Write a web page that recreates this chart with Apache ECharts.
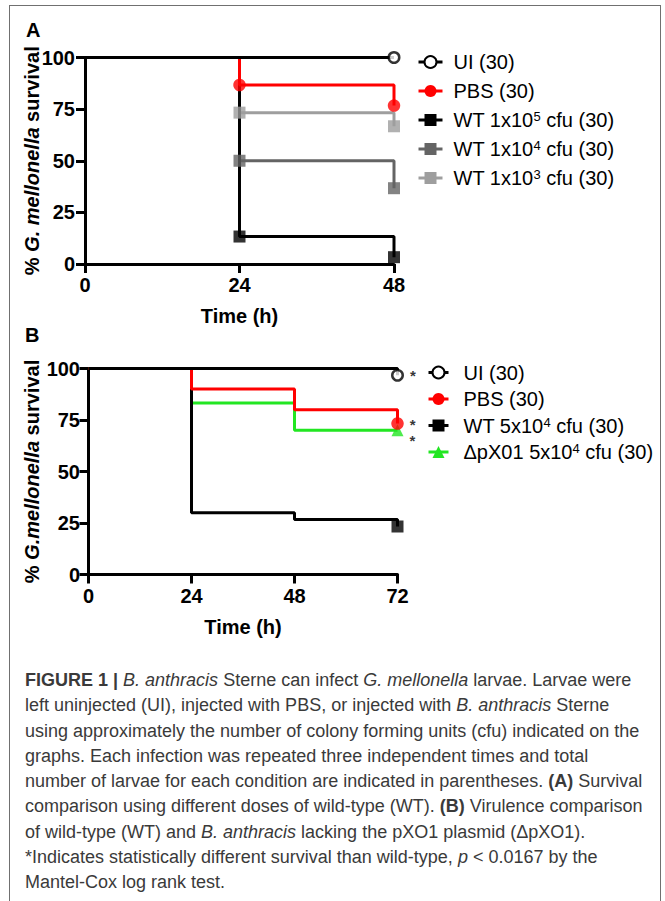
<!DOCTYPE html>
<html><head><meta charset="utf-8">
<script src="https://cdn.jsdelivr.net/npm/echarts@6/dist/echarts.min.js"></script>
<style>
html,body{margin:0;padding:0;background:#fff;}
#frame{position:absolute;left:9px;top:5px;width:652px;height:1000px;border:1.5px solid #707070;box-sizing:border-box;}
#chart{position:absolute;left:0;top:0;width:665px;height:660px;}
#cap{position:absolute;left:25px;top:668px;font-family:'Liberation Sans',Arial,sans-serif;font-size:18px;line-height:25.3px;color:#3a3a3a;white-space:nowrap;}
</style></head>
<body>
<div id="frame"></div>
<div id="chart"></div>
<div id="cap">
<b>FIGURE 1 |</b> <i>B. anthracis</i> Sterne can infect <i>G. mellonella</i> larvae. Larvae were<br>
left uninjected (UI), injected with PBS, or injected with <i>B. anthracis</i> Sterne<br>
using approximately the number of colony forming units (cfu) indicated on the<br>
graphs. Each infection was repeated three independent times and total<br>
number of larvae for each condition are indicated in parentheses. <b>(A)</b> Survival<br>
comparison using different doses of wild-type (WT). <b>(B)</b> Virulence comparison<br>
of wild-type (WT) and <i>B. anthracis</i> lacking the pXO1 plasmid (ΔpXO1).<br>
*Indicates statistically different survival than wild-type, <i>p</i> &lt; 0.0167 by the<br>
Mantel-Cox log rank test.
</div>
<script>
// ---- data ----
const timesA = [0, 24, 48];
const uiA  = [100, 100, 100];
const pbsA = [100, 86.7, 76.7];
const wt5A = [100, 13.3, 3.3];
const wt4A = [100, 50, 36.7];
const wt3A = [100, 73.3, 66.7];

const timesB = [0, 24, 48, 72];
const uiB  = [100, 100, 100, 96.7];
const pbsB = [100, 90, 80, 73.3];
const wtB  = [100, 30, 26.7, 23.3];
const dpB  = [100, 83.3, 70, 70];

const namesA = ['UI (30)', 'PBS (30)', 'WT 1x10^5 cfu (30)', 'WT 1x10^4 cfu (30)', 'WT 1x10^3 cfu (30)'];
const namesB = ['UI (30)', 'PBS (30)', 'WT 5x10^4 cfu (30)', '\u0394pX01 5x10^4 cfu (30)'];
const yTitleA = '% {i|G. mellonella} survival';
const yTitleB = '% {i|G.mellonella} survival';
const xTitle = 'Time (h)';
const star = '*';

// marker indices (points where the curve shows a symbol)
const markA = {ui: [2], pbs: [1, 2], wt5: [1, 2], wt4: [1, 2], wt3: [1, 2]};
const markB = {ui: [3], pbs: [3], wt: [3], dp: [3]};

// ---- styles ----
const FF = "'Liberation Sans', Arial, sans-serif";
const RED = '#ff0000', GREEN = '#22e622', DGREY = '#646464', LGREY = '#9e9e9e', BLACK = '#000';
const sym = {
  openCircle: {symbol: 'circle', itemStyle: {color: '#fff', borderColor: BLACK, borderWidth: 2.5}, size: 10.5},
  redCircle: {symbol: 'circle', itemStyle: {color: RED}, size: 12.5},
  blackSq: {symbol: 'rect', itemStyle: {color: BLACK}, size: 12},
  dgSq: {symbol: 'rect', itemStyle: {color: DGREY}, size: 12},
  lgSq: {symbol: 'rect', itemStyle: {color: LGREY}, size: 12},
  greenTri: {symbol: 'triangle', itemStyle: {color: GREEN}, size: 12}
};

function pts(t, v) { return t.map((x, i) => [x, v[i]]); }

function lineS(name, t, v, color, s, ax, z) {
  return {
    type: 'line', name: name, xAxisIndex: ax, yAxisIndex: ax,
    data: pts(t, v), step: 'end', showSymbol: false,
    symbol: s.symbol, symbolSize: s.size, itemStyle: s.itemStyle,
    lineStyle: {color: color, width: 3}, z: z, silent: true, animation: false
  };
}
function markS(t, v, idx, s, ax, label) {
  return {
    type: 'scatter', xAxisIndex: ax, yAxisIndex: ax,
    data: idx.map(i => ({value: [t[i], v[i]], label: label})),
    symbol: s.symbol, symbolSize: s.size, itemStyle: s.itemStyle,
    z: 10, silent: true, animation: false
  };
}
function starLabel(dy) {
  return {show: true, formatter: star, position: 'right', distance: 6, offset: [0, dy],
    fontSize: 15, lineHeight: 12, fontWeight: 'bold', color: BLACK, fontFamily: FF};
}

function xAxisOf(gi, max) {
  return {
    type: 'value', gridIndex: gi, min: 0, max: max, interval: 24,
    axisLine: {onZero: false, lineStyle: {color: BLACK, width: 3}},
    axisTick: {length: 9, lineStyle: {color: BLACK, width: 3}},
    axisLabel: {color: BLACK, fontSize: 20, fontWeight: 'bold', fontFamily: FF, margin: 11},
    splitLine: {show: false},
    name: xTitle, nameLocation: 'middle', nameGap: 42, nameMoveOverlap: false,
    nameTextStyle: {color: BLACK, fontSize: 20, fontWeight: 'bold', fontFamily: FF}
  };
}
function yAxisOf(gi, title, gap, margin) {
  return {
    type: 'value', gridIndex: gi, min: 0, max: 100, interval: 25,
    axisLine: {onZero: false, lineStyle: {color: BLACK, width: 3}},
    axisTick: {length: 9, lineStyle: {color: BLACK, width: 3}},
    axisLabel: {color: BLACK, fontSize: 20, fontWeight: 'bold', fontFamily: FF, margin: margin},
    splitLine: {show: false},
    name: title, nameLocation: 'middle', nameRotate: 90, nameGap: gap, nameMoveOverlap: false,
    nameTextStyle: {color: BLACK, fontSize: 20, fontWeight: 'bold', fontFamily: FF,
      rich: {i: {fontStyle: 'italic', fontWeight: 'bold', fontSize: 20, fontFamily: FF, color: BLACK}}}
  };
}
const fmt = n => n.replace(/\^(\d)/, '{sup|$1}');
function legendOf(names, left, top, w, gap, pad) {
  return {
    data: names, left: left, top: top, orient: 'vertical', padding: 0,
    itemWidth: w, itemHeight: 15, itemGap: gap, selectedMode: false,
    lineStyle: {width: 3},
    formatter: fmt,
    textStyle: {fontSize: 20, color: BLACK, fontFamily: FF, padding: [0, 0, 0, pad],
      rich: {sup: {fontSize: 13, verticalAlign: 'top', color: BLACK, fontFamily: FF}}}
  };
}

const chart = echarts.init(document.getElementById('chart'), null, {renderer: 'svg'});
chart.setOption({
  animation: false,
  grid: [
    {left: 85, top: 57.5, width: 309, height: 206.5},
    {left: 88.5, top: 368.5, width: 309, height: 206}
  ],
  xAxis: [xAxisOf(0, 48), xAxisOf(1, 72)],
  yAxis: [yAxisOf(0, yTitleA, 43, 10), yAxisOf(1, yTitleB, 47, 8.5)],
  legend: [
    legendOf(namesA, 417, 52, 24, 9, 6),
    legendOf(namesB, 427, 362.5, 20, 6.5, 10)
  ],
  graphic: [
    {type: 'text', left: 26, top: 20, style: {text: 'A', font: 'bold 20px ' + FF, fill: BLACK}},
    {type: 'text', left: 25, top: 325, style: {text: 'B', font: 'bold 20px ' + FF, fill: BLACK}}
  ],
  series: [
    // panel A lines
    lineS(namesA[3], timesA, wt4A, DGREY, sym.dgSq, 0, 2),
    lineS(namesA[4], timesA, wt3A, LGREY, sym.lgSq, 0, 2),
    lineS(namesA[2], timesA, wt5A, BLACK, sym.blackSq, 0, 3),
    lineS(namesA[1], timesA, pbsA, RED, sym.redCircle, 0, 4),
    lineS(namesA[0], timesA, uiA, BLACK, sym.openCircle, 0, 5),
    // panel A markers
    markS(timesA, wt4A, markA.wt4, sym.dgSq, 0),
    markS(timesA, wt3A, markA.wt3, sym.lgSq, 0),
    markS(timesA, wt5A, markA.wt5, sym.blackSq, 0),
    markS(timesA, pbsA, markA.pbs, sym.redCircle, 0),
    markS(timesA, uiA, markA.ui, sym.openCircle, 0),
    // panel B lines
    lineS(namesB[3], timesB, dpB, GREEN, sym.greenTri, 1, 2),
    lineS(namesB[2], timesB, wtB, BLACK, sym.blackSq, 1, 3),
    lineS(namesB[1], timesB, pbsB, RED, sym.redCircle, 1, 4),
    lineS(namesB[0], timesB, uiB, BLACK, sym.openCircle, 1, 5),
    // panel B markers
    markS(timesB, dpB, markB.dp, sym.greenTri, 1, starLabel(10)),
    markS(timesB, wtB, markB.wt, sym.blackSq, 1),
    markS(timesB, pbsB, markB.pbs, sym.redCircle, 1, starLabel(0.5)),
    markS(timesB, uiB, markB.ui, sym.openCircle, 1, starLabel(0.5))
  ]
});
</script>
</body></html>
